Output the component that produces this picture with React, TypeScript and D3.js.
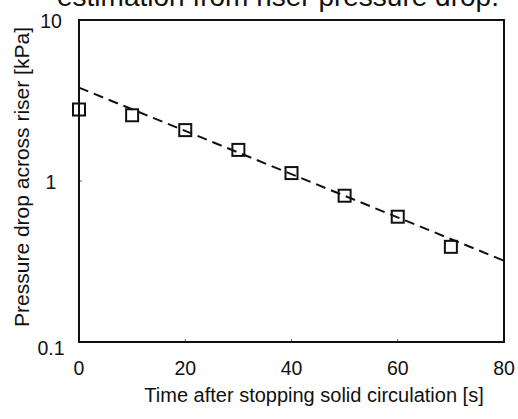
import * as d3 from 'd3';

// measured points: time after stopping [s] vs pressure drop [kPa]
const times = [0, 10, 20, 30, 40, 50, 60, 70];
const pressures = [2.78, 2.56, 2.07, 1.56, 1.12, 0.81, 0.6, 0.39];

// exponential fit, drawn as a straight dashed line on the log axis
const fitTimes = [0, 80];
const fitPressures = [3.8, 0.32];

const xTicks = [0, 20, 40, 60, 80];
const yTicks = [0.1, 1, 10];
const yTickLabels = ['0.1', '1', '10'];

const W = 518;
const H = 419;
const FONT = "'Liberation Sans', Arial, sans-serif";

export default function App() {
  const left = 79;
  const right = 504;
  const top = 20;
  const bottom = 342;

  const x = d3.scaleLinear().domain([0, 80]).range([left, right]);
  const y = d3.scaleLog().domain([0.1, 10]).range([bottom, top]);

  const fitLine = d3
    .line<number>()
    .x((_, i) => x(fitTimes[i]))
    .y((d) => y(d));

  const sq = 12;

  return (
    <svg
      width={W}
      height={H}
      style={{ position: 'absolute', left: 0, top: 0, background: '#fff' }}
      fontFamily={FONT}
    >
      <rect width={W} height={H} fill="#fff" />

      {/* cut-off caption line from the page above */}
      <text x={57} y={6} fontSize={28} fill="#111">
        estimation from riser pressure drop.
      </text>

      {/* small inner ticks */}
      {xTicks.slice(1, -1).map((t) => (
        <line key={'xt' + t} x1={x(t)} x2={x(t)} y1={bottom} y2={bottom - 3} stroke="#666" strokeWidth={1} />
      ))}
      {yTicks.slice(1, -1).map((t) => (
        <line key={'yt' + t} x1={left} x2={left + 3} y1={y(t)} y2={y(t)} stroke="#666" strokeWidth={1} />
      ))}

      {/* fit line */}
      <path
        d={fitLine(fitPressures) || ''}
        fill="none"
        stroke="#111"
        strokeWidth={2}
        strokeDasharray="10,6"
      />

      {/* markers */}
      {times.map((t, i) => (
        <rect
          key={t}
          x={x(t) - sq / 2}
          y={y(pressures[i]) - sq / 2}
          width={sq}
          height={sq}
          fill="none"
          stroke="#111"
          strokeWidth={2}
        />
      ))}

      {/* frame */}
      <rect
        x={left}
        y={top}
        width={right - left}
        height={bottom - top}
        fill="none"
        stroke="#111"
        strokeWidth={2}
      />

      {/* x tick labels */}
      {xTicks.map((t) => (
        <text key={'xl' + t} x={x(t)} y={375} fontSize={19.5} textAnchor="middle" fill="#111">
          {t}
        </text>
      ))}

      {/* y tick labels */}
      {yTicks.map((t, i) => (
        <text
          key={'yl' + t}
          x={51}
          y={y(t) + (i === 0 ? 13 : 8)}
          fontSize={19.5}
          textAnchor="middle"
          fill="#111"
        >
          {yTickLabels[i]}
        </text>
      ))}

      {/* axis titles */}
      <text x={314} y={402} fontSize={20} textAnchor="middle" fill="#111">
        Time after stopping solid circulation [s]
      </text>
      <text
        transform={`translate(29, 177) rotate(-90)`}
        fontSize={21}
        textAnchor="middle"
        fill="#111"
      >
        Pressure drop across riser [kPa]
      </text>
    </svg>
  );
}
